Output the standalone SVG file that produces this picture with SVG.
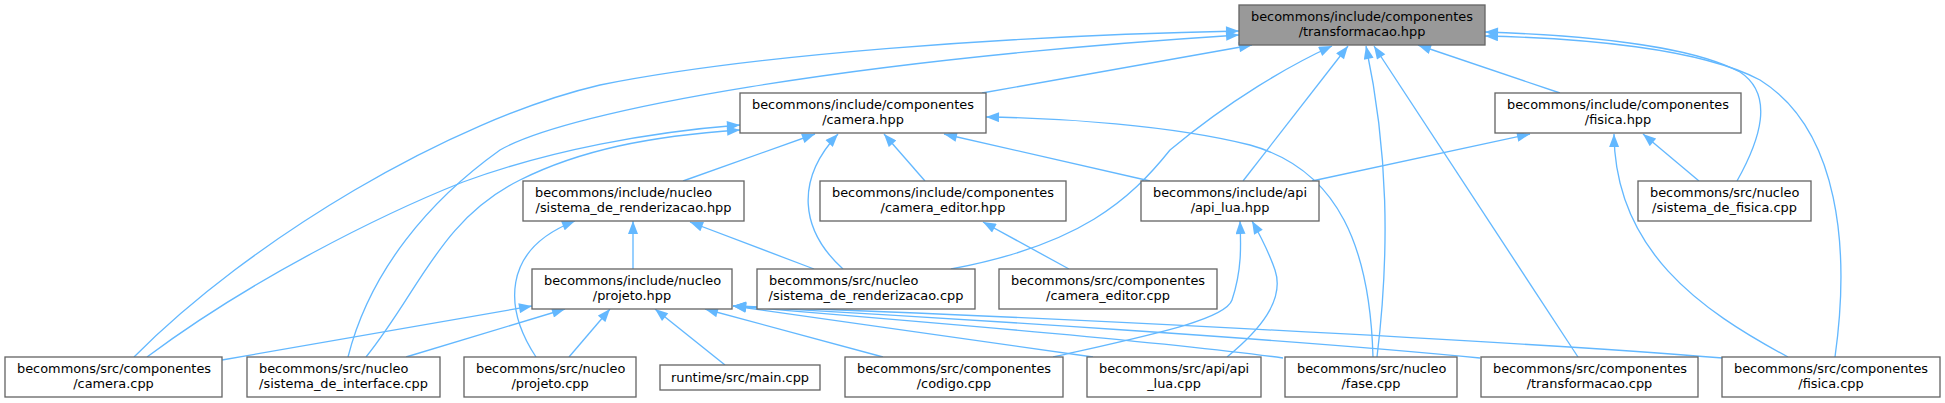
<svg xmlns="http://www.w3.org/2000/svg" width="1945" height="403" viewBox="0 0 1945 403">
<defs>
<marker id="ah" markerUnits="userSpaceOnUse" markerWidth="14" markerHeight="10" viewBox="0 0 13 10" refX="13" refY="5" orient="auto">
<path d="M0,0 L13,5 L0,10 z" fill="#63b8ff"/>
</marker>
</defs>
<style>
.node rect{fill:#ffffff;stroke:#666666;stroke-width:1.33}
.top rect{fill:#999999}
text{font-family:"DejaVu Sans",Verdana,sans-serif;font-size:12.9px;fill:#000000}
.m{text-anchor:middle}
#edges path{fill:none;stroke:#63b8ff;stroke-width:1.33;marker-end:url(#ah)}
</style>
<rect width="1945" height="403" fill="#ffffff"/>
<g id="edges">
<path d="M982,93 L1252,45"/>
<path d="M134,357 C250,240 450,120 600,85 C750,55 1000,36 1239,31"/>
<path d="M348,357 C370,270 430,200 500,150 C570,110 850,60 1239,35"/>
<path d="M147,357 C250,280 380,215 463,182 C550,150 650,132 740,125"/>
<path d="M366,357 C420,290 440,220 520,180 C580,150 650,136 740,130"/>
<path d="M683,181 L815,134"/>
<path d="M843,269 C800,230 795,180 838,134"/>
<path d="M925,181 L884,134"/>
<path d="M1150,181 L944,134"/>
<path d="M1373,357 C1370,250 1340,170 1250,145 C1170,125 1060,118 986,117"/>
<path d="M951,269 C1080,245 1130,200 1170,150 C1230,100 1290,65 1332,46"/>
<path d="M1243,181 L1348,46"/>
<path d="M1377,357 C1390,250 1388,150 1366,46"/>
<path d="M1578,357 L1374,46"/>
<path d="M1560,93 L1418,45"/>
<path d="M1737,181 C1760,140 1775,95 1740,72 C1690,45 1580,35 1485,32"/>
<path d="M1835,357 C1850,250 1840,130 1760,80 C1700,48 1580,38 1485,36"/>
<path d="M1312,181 L1530,134"/>
<path d="M1699,181 L1643,134"/>
<path d="M1788,357 C1700,310 1615,250 1614,134"/>
<path d="M633,269 L633,221"/>
<path d="M814,269 L690,222"/>
<path d="M536,357 C505,310 500,250 575,221"/>
<path d="M1069,269 L983,222"/>
<path d="M1053,357 C1150,335 1225,320 1232,300 C1242,270 1241,245 1240,221"/>
<path d="M1227,357 C1260,330 1285,300 1275,270 C1268,250 1260,235 1252,221"/>
<path d="M222,360 L532,306"/>
<path d="M406,357 L565,309"/>
<path d="M569,357 L610,309"/>
<path d="M725,365 L655,309"/>
<path d="M883,357 L705,309"/>
<path d="M1093,357 L733,306"/>
<path d="M1283,358 C1150,340 900,320 733,306"/>
<path d="M1480,358 C1300,340 950,318 733,306"/>
<path d="M1723,358 C1500,340 1000,315 733,306"/>
</g>
<g id="n0" class="node top"><rect x="1239" y="5" width="246" height="40"/><text x="1251" y="21">becommons/include/componentes</text><text x="1362" y="36" class="m">/transformacao.hpp</text></g>
<g id="n1" class="node"><rect x="740" y="93" width="246" height="40"/><text x="752" y="109">becommons/include/componentes</text><text x="863" y="124" class="m">/camera.hpp</text></g>
<g id="n2" class="node"><rect x="1495" y="93" width="246" height="40"/><text x="1507" y="109">becommons/include/componentes</text><text x="1618" y="124" class="m">/fisica.hpp</text></g>
<g id="n3" class="node"><rect x="523" y="181" width="221" height="40"/><text x="535" y="197">becommons/include/nucleo</text><text x="633.5" y="212" class="m">/sistema_de_renderizacao.hpp</text></g>
<g id="n4" class="node"><rect x="820" y="181" width="246" height="40"/><text x="832" y="197">becommons/include/componentes</text><text x="943" y="212" class="m">/camera_editor.hpp</text></g>
<g id="n5" class="node"><rect x="1141" y="181" width="178" height="40"/><text x="1153" y="197">becommons/include/api</text><text x="1230" y="212" class="m">/api_lua.hpp</text></g>
<g id="n6" class="node"><rect x="1638" y="181" width="173" height="40"/><text x="1650" y="197">becommons/src/nucleo</text><text x="1724.5" y="212" class="m">/sistema_de_fisica.cpp</text></g>
<g id="n7" class="node"><rect x="532" y="269" width="200" height="40"/><text x="544" y="285">becommons/include/nucleo</text><text x="632" y="300" class="m">/projeto.hpp</text></g>
<g id="n8" class="node"><rect x="757" y="269" width="218" height="40"/><text x="769" y="285">becommons/src/nucleo</text><text x="866" y="300" class="m">/sistema_de_renderizacao.cpp</text></g>
<g id="n9" class="node"><rect x="999" y="269" width="218" height="40"/><text x="1011" y="285">becommons/src/componentes</text><text x="1108" y="300" class="m">/camera_editor.cpp</text></g>
<g id="n10" class="node"><rect x="5" y="357" width="217" height="40"/><text x="17" y="373">becommons/src/componentes</text><text x="113.5" y="388" class="m">/camera.cpp</text></g>
<g id="n11" class="node"><rect x="247" y="357" width="193" height="40"/><text x="259" y="373">becommons/src/nucleo</text><text x="343.5" y="388" class="m">/sistema_de_interface.cpp</text></g>
<g id="n12" class="node"><rect x="464" y="357" width="172" height="40"/><text x="476" y="373">becommons/src/nucleo</text><text x="550" y="388" class="m">/projeto.cpp</text></g>
<g id="n13" class="node"><rect x="660" y="365" width="160" height="25"/><text x="740" y="382" class="m">runtime/src/main.cpp</text></g>
<g id="n14" class="node"><rect x="845" y="357" width="218" height="40"/><text x="857" y="373">becommons/src/componentes</text><text x="954" y="388" class="m">/codigo.cpp</text></g>
<g id="n15" class="node"><rect x="1087" y="357" width="174" height="40"/><text x="1099" y="373">becommons/src/api/api</text><text x="1174" y="388" class="m">_lua.cpp</text></g>
<g id="n16" class="node"><rect x="1285" y="357" width="172" height="40"/><text x="1297" y="373">becommons/src/nucleo</text><text x="1371" y="388" class="m">/fase.cpp</text></g>
<g id="n17" class="node"><rect x="1481" y="357" width="217" height="40"/><text x="1493" y="373">becommons/src/componentes</text><text x="1589.5" y="388" class="m">/transformacao.cpp</text></g>
<g id="n18" class="node"><rect x="1722" y="357" width="218" height="40"/><text x="1734" y="373">becommons/src/componentes</text><text x="1831" y="388" class="m">/fisica.cpp</text></g>
</svg>
